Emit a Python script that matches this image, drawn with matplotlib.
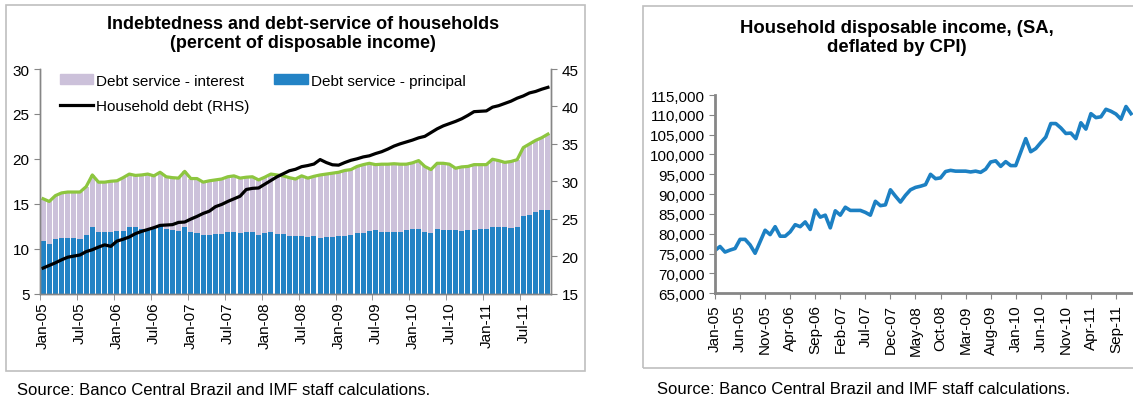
import numpy as np
import pandas as pd
import matplotlib.pyplot as plt
from matplotlib.patches import Rectangle, Patch
from matplotlib.lines import Line2D
from matplotlib.ticker import FuncFormatter

plt.rcParams['font.family'] = ['Liberation Sans', 'DejaVu Sans']

# left chart: monthly, Jan-05 .. Nov-11 (percent of disposable income)
months = pd.date_range('2005-01-01', '2011-11-01', freq='MS')
principal = [10.85, 10.55, 11.05, 11.15, 11.15, 11.15, 11.1, 11.5, 12.45, 11.85, 11.8, 11.8,
             11.95, 12.0, 12.45, 12.35, 12.15, 12.2, 12.3, 12.5, 12.15, 12.1, 11.95, 12.35,
             11.8, 11.75, 11.5, 11.5, 11.6, 11.6, 11.9, 11.9, 11.7, 11.9, 11.9, 11.5,
             11.7, 11.8, 11.65, 11.6, 11.4, 11.4, 11.4, 11.3, 11.35, 11.2, 11.25, 11.3,
             11.45, 11.45, 11.5, 11.7, 11.7, 11.95, 12.1, 11.9, 11.9, 11.9, 11.9, 12.05,
             12.15, 12.2, 11.9, 11.7, 12.2, 12.1, 12.1, 12.1, 12.0, 12.1, 12.1, 12.2,
             12.2, 12.45, 12.45, 12.35, 12.25, 12.35, 13.65, 13.75, 14.05, 14.25, 14.35]
total_service = [15.55, 15.25, 15.9, 16.2, 16.3, 16.3, 16.3, 16.9, 18.2, 17.4, 17.4, 17.5,
                 17.55, 17.9, 18.3, 18.15, 18.2, 18.3, 18.1, 18.5, 18.0, 17.9, 17.85, 18.6,
                 17.8, 17.8, 17.4, 17.55, 17.65, 17.75, 18.0, 18.1, 17.85, 17.95, 18.0, 17.65,
                 17.95, 18.3, 18.2, 18.1, 17.9, 17.75, 18.1, 17.85, 18.05, 18.2, 18.3, 18.4,
                 18.5, 18.7, 18.8, 19.15, 19.35, 19.5, 19.35, 19.4, 19.4, 19.45, 19.4, 19.4,
                 19.55, 19.8, 19.15, 18.8, 19.5, 19.5, 19.4, 18.95, 19.1, 19.15, 19.35, 19.35,
                 19.35, 19.95, 19.8, 19.6, 19.7, 19.9, 21.25, 21.65, 22.05, 22.35, 22.75]
household_debt = [18.4, 18.75, 19.1, 19.5, 19.85, 20.0, 20.15, 20.6, 20.85, 21.2, 21.5, 21.3,
                  22.0, 22.25, 22.55, 23.0, 23.3, 23.55, 23.8, 24.1, 24.15, 24.2, 24.5, 24.55,
                  24.95, 25.3, 25.7, 26.0, 26.6, 26.9, 27.3, 27.65, 28.0, 28.9, 29.05, 29.1,
                  29.6, 30.1, 30.6, 31.0, 31.4, 31.6, 31.95, 32.1, 32.3, 32.9, 32.5, 32.2,
                  32.15, 32.5, 32.8, 33.0, 33.25, 33.4, 33.7, 33.95, 34.3, 34.7, 35.0, 35.25,
                  35.5, 35.8, 36.0, 36.5, 37.0, 37.4, 37.7, 38.0, 38.35, 38.8, 39.3, 39.35,
                  39.4, 39.9, 40.1, 40.4, 40.7, 41.1, 41.4, 41.8, 42.0, 42.3, 42.55]

# right chart: monthly, Jan-05 .. Dec-11
income_months = pd.date_range('2005-01-01', '2011-12-01', freq='MS')
income = [75800, 76800, 75400, 75900, 76300, 78600, 78600, 77200, 75100, 78000, 80900, 79800,
          81800, 79400, 79400, 80500, 82300, 81800, 83000, 81100, 86000, 84200, 84700, 81500,
          85800, 84700, 86700, 85900, 85900, 85900, 85400, 84700, 88200, 87100, 87300, 91100,
          89500, 88000, 89700, 91100, 91700, 92000, 92400, 95000, 93900, 94100, 95700, 96000,
          95800, 95800, 95800, 95600, 95800, 95500, 96300, 98100, 98400, 97000, 98200, 97200,
          97200, 100600, 104000, 100700, 101500, 103000, 104400, 107800, 107800, 106700, 105300, 105400,
          104000, 108000, 106400, 110300, 109300, 109500, 111400, 110900, 110200, 108900, 112100, 110300]

W, H = 1133, 402
def box(l, t, r, b):
    return [l / W, 1 - b / H, (r - l) / W, (b - t) / H]

fig = plt.figure(figsize=(W / 100, H / 100), dpi=100)
fig.add_artist(Rectangle((6 / W, 1 - 372 / H), 579 / W, 366 / H, transform=fig.transFigure,
                         fill=False, ec='#BFBFBF', lw=1.2))
fig.add_artist(Rectangle((643 / W, 1 - 369 / H), 600 / W, 362 / H, transform=fig.transFigure,
                         fill=False, ec='#BFBFBF', lw=1.2))

axis_col = '#868686'
purple = '#CCC1DA'
blue = '#2383C5'
green = '#8DC63F'

# ---- left chart
ax1 = fig.add_axes(box(40, 70, 551, 294.5))
x = np.arange(len(months))
interest = np.array(total_service) - np.array(principal)
ax1.bar(x, principal, 0.82, color=blue)
ax1.bar(x, interest, 0.82, bottom=principal, color=purple)
ax1.plot(x, total_service, color=green, lw=2.3)
ax1.set_xlim(-0.5, len(months) - 0.5)
ax1.set_ylim(5, 30)
ax1.set_yticks(range(5, 31, 5))
ax2 = ax1.twinx()
ax2.plot(x, household_debt, color='black', lw=2.3)
ax2.set_ylim(15, 45)
ax2.set_yticks(range(15, 46, 5))

ax1.set_xticks(x[::6])
ax1.set_xticklabels(months[::6].strftime('%b-%y'), rotation=90)
ax1.set_xticks(np.arange(-0.5, len(months), 6), minor=True)
ax1.tick_params(axis='x', which='major', length=0, pad=6, labelsize=11)
ax1.tick_params(axis='x', which='minor', length=4, color=axis_col)
ax1.tick_params(axis='y', length=4, color=axis_col, labelsize=11)
ax2.tick_params(axis='y', length=4, color=axis_col, labelsize=11)
for a in (ax1, ax2):
    a.spines['top'].set_visible(False)
    for s in ('left', 'right', 'bottom'):
        a.spines[s].set_color(axis_col)
        a.spines[s].set_linewidth(1)

handles = [Patch(color=purple), Line2D([], [], color='black', lw=2.3), Patch(color=blue)]
labels = ['Debt service - interest', 'Household debt (RHS)', 'Debt service - principal']
fig.legend(handles, labels, ncol=2, loc='upper left', bbox_to_anchor=(52 / W, 1 - 67 / H),
           frameon=False, fontsize=11, handlelength=2.2, handleheight=0.6,
           handletextpad=0.2, columnspacing=1.6, labelspacing=0.75, borderpad=0)

fig.text(303 / W, 1 - 16 / H, 'Indebtedness and debt-service of households\n(percent of disposable income)',
         ha='center', va='top', fontsize=13, fontweight='bold', linespacing=1.15)
fig.text(17 / W, 1 - 391 / H, 'Source: Banco Central Brazil and IMF staff calculations.',
         va='center', fontsize=12)

# ---- right chart
ax3 = fig.add_axes(box(715, 96, 1133, 294.3))
xi = np.arange(len(income_months))
ax3.plot(xi, income, color='#1C80C3', lw=2.6)
ax3.set_xlim(0, 83.4)
ax3.set_ylim(65000, 115000)
ax3.set_yticks(range(65000, 115001, 5000))
ax3.yaxis.set_major_formatter(FuncFormatter(lambda v, p: f'{v:,.0f}'))
ax3.set_xticks(xi[:81:5])
ax3.set_xticklabels(income_months[:81:5].strftime('%b-%y'), rotation=90)
ax3.tick_params(axis='x', length=4, color=axis_col, labelsize=11, pad=4)
ax3.tick_params(axis='y', length=4, color=axis_col, labelsize=11)
for s in ('top', 'right'):
    ax3.spines[s].set_visible(False)
for s in ('left', 'bottom'):
    ax3.spines[s].set_color(axis_col)
    ax3.spines[s].set_linewidth(2)

fig.text(897 / W, 1 - 20 / H, 'Household disposable income, (SA,\ndeflated by CPI)',
         ha='center', va='top', fontsize=13.3, fontweight='bold', linespacing=1.15)
fig.text(657 / W, 1 - 390 / H, 'Source: Banco Central Brazil and IMF staff calculations.',
         va='center', fontsize=12)

fig.savefig('out.png', dpi=100)
